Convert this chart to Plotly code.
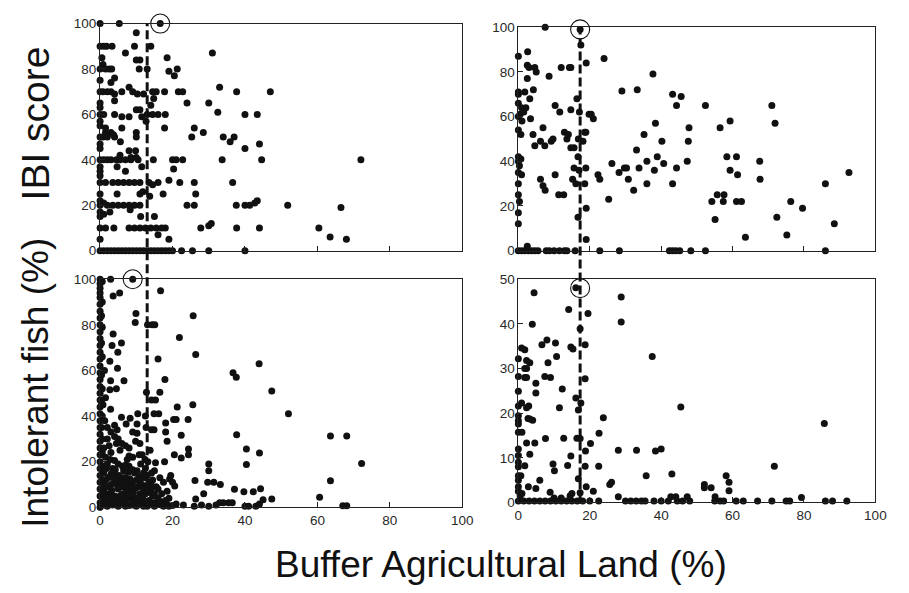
import plotly.graph_objects as go

# ---------------- data ----------------
# Top-left: IBI score vs buffer agricultural land (%)
tl_points = [
    (0,100),(5.3,100),(16.6,100),(10,96),
    (0,90),(1,90),(1.8,90),(3.3,90),(9.5,90),(14,90),(7,87),(31,87),
    (0.5,85),(10,84),(11,84),(18.5,85),
    (0,80),(0.8,82),(1.5,80),(2.5,80),(3.2,80),(10.8,80),(13,80),(19,79),(21.3,80),(20.5,77),
    (0,75),(3,74),(4,76),(8,72),(33,72),
    (0,70),(0.8,70),(2,70),(3,70),(4,69),(6,70),(9,70),(10.3,69),(12,69),(14.5,70),(15.5,70),
    (17.8,70),(21.6,70),(22.8,70),(37.7,70),(47,70),
    (4,66),(14.8,67),(0,65),(0,63),(14,64),(24,65),(30,65),(10,62),(11,62),
    (0,60),(1,60),(4,60),(6,59),(8,59),(11.5,59),(13,60),(14.5,60),(16,60),(18,60),(32.5,61),
    (40,60),(43.4,60),(12.7,57),(0,57),
    (0,55),(1.5,54),(6,54),(17.8,54),(26,54),(1.5,52),(3,52),(3.7,51),(10,52),(28.5,52),
    (0,50),(0.8,50),(2,50),(4,50),(10,50),(25.3,50),(34,50),(37,50),
    (5.6,48),(35.9,48),(44,47),(0,45),(40,45),(0,47),(8,44),(9.8,44),(5.5,42),(8.5,41),(10,41),
    (0,40),(1,40),(2,40),(3,40),(4.5,40),(5.5,40),(7,40),(8.5,40),(10.5,40),(14.7,40),(20,40),
    (21,40),(22.8,40),(33.7,40),(44.6,40),(72,40),
    (4.7,37),(11.5,37),(20.3,36),(0,37),(0,35),(7,35),(19,31),(0,33),
    (0,30),(1.5,30),(3.5,30),(5,30),(6.5,30),(8,30),(9.5,30),(11,30),(13.5,30),(14.5,29),(16,30),
    (22,30),(26,30),(36.6,30),
    (0,25),(4.7,25),(11,25),(11.8,26),(13.7,24),(17.4,25),(26.4,25),(43.4,22),(0,22),
    (0,20),(1,21),(2,20),(3.5,20),(5,20),(6.5,20),(8,20),(9.5,20),(11,20),(24,20),(26,20),
    (37.6,20),(40,20),(41.3,20),(42.7,21),(51.8,20),(66.5,19),
    (2.7,17),(8.3,18),(0,17),(0,15),(1,16),(11.2,15),(15,15),
    (0,10),(1.5,10),(3.8,10),(8,10),(9.5,10),(11,10),(12.5,10),(14,10),(15.5,10),(17,10),(18,10),
    (27.8,10),(30,11),(30.7,12),(37.7,10),(44,10),(60.4,10),
    (16,7),(63.5,6),(0,5),(19,5),(68,5),
    (0,0),(1,0),(2,0),(3,0),(4,0),(5,0),(6,0),(7,0),(8,0),(9,0),(10,0),(11,0),(12,0),(13,0),
    (14,0),(15,0),(16,0),(17,0),(18,0),(19,0),(20,0),(22.5,0),(25.5,0),(30,0),(40,0),
]

# Top-right: IBI score vs buffer agricultural land (%)
tr_points = [
    (0,87),(2.6,89),(7.5,100),(17.3,99),(17.5,92),(24,86),(19,84),
    (2.5,83),(3,82),(4.6,82),(5,80),(8.6,78),(12,82),(14.3,82),(14.7,82),(37.7,79),(2.5,77),
    (0,71),(0,70),(1.8,71),(4.2,72),(3.2,68),(29,71.5),(33.3,72),(43.2,70),(45.6,69),
    (52.4,65),(44.3,65),(71,65),(0,66),(0.9,64),(2.1,64),(1.5,62),(0.5,61),(0,60),(1,58),
    (10.3,65),(11.6,62),(14.7,63),(16.4,68),(17.1,62),(19.8,61),(20.4,61),(21,59),(3.4,59),
    (0,54),(0.7,52),(4.1,52),(6.9,55),(4.6,47),(6.2,49),(7.4,47),(9.2,49),(9.7,50),
    (12.9,53),(14,52),(13.6,50),(14.7,46),(15.6,46),(16.8,50),(18.1,49),(18.9,53),(18.6,53),
    (38.4,57),(35.2,52),(47.8,55),(47.6,49),(40.2,49),(56.5,55),(59.3,58),(71.9,57),
    (0,42),(0,40),(0.3,38),(0,35),(0.7,41),(0.9,34),
    (33.1,45),(26.2,39),(36,40),(38.9,42),(40.7,39),(38.1,36),(47.3,40),
    (33.8,37),(29.7,37),(30.3,37),(28.2,35),(30.8,32),(32.3,27),(36,30),(43.2,30),(44.3,37),
    (58.4,42),(61.1,42),(59.3,36),(61.4,34),(67.6,40),(67.7,32),(92.6,35),
    (6.2,32),(6.9,29),(7.5,27),(10.3,34),(11.3,25),(12.7,25),
    (15.2,32),(15.6,37),(16.1,30),(17,36),(18.6,30),(18.9,37),(22.3,34),(22.8,32),
    (16.7,42),(25.3,23),(16.7,15),(19,19),
    (54.2,22),(55.7,25),(57.6,25),(57.4,22),(55.1,14),(61.1,22),(62.5,22),(63.6,6),
    (72.4,15),(75.2,7),(76.3,22),(79.6,19),(86,30),(88.5,12),
    (0,30),(0,25),(0.3,22),(0,17),(0,12),(19,5),
    (0,0),(0.9,0),(1.8,0),(2.8,0),(3.7,0),(4.6,0),(5.5,0),(2.5,2),(7.8,0),(8.7,0),(10,0),
    (11.5,0),(12.9,0),(13.6,0),(15.9,0),(22.8,0),(28.3,0),(42.3,0),(43.2,0),(44.1,0),(45.2,0),
    (48.3,0),(52.4,0),(86,0),
]

# Bottom-left: intolerant fish (%) vs buffer agricultural land (%)
bl_points = [
    (0,100),(0,98),(0,96),(0,94),(0,92),(0,89),(0,86),(0,83),(0,80),(0,77),(0,74),(0,71),
    (0,68),(0,65),(0,62),(0,59),(0,56),(0,53),(0,50),(0,47),(0,44),(0,41),(0,38),(0,35),
    (0,32),(0,29),(0,26),(0,23),(0,20),(0,17),(0,14),(0,11),(0,8),(0,5),(0,2),(0,0),
    (0.6,99),(0.6,90),(0.6,79),(0.6,66),(0.6,52),(0.6,40),(0.6,30),(0.6,24),(0.6,18),
    (0.4,84),(0.4,72),(0.4,58),(0.4,46),(0.4,35),(0.8,12),(0.8,6),(0.8,2),
    (2.9,100),(9,100),(3.6,92.6),(5.4,94),(16.7,95),(9.9,85),(9.7,81),
    (13.1,80),(14.4,80),(15.1,80),(25.7,84),(21.9,74.5),
    (3.6,76),(3.3,71),(5.9,72),(4.9,68),(26.4,67),(16,65),(2.7,64),(4.8,61),
    (2.9,55.5),(2.7,51.5),(6.6,55.5),(4.5,52),(17.9,56),(36.7,59),(37.6,57),(43.9,63),
    (47.4,51),(52,41),(2.9,43),(12.8,50.5),(14.2,47),(15.3,47),(16.5,50.5),
    (5.9,39.5),(8.3,39),(7.2,36.5),(10.4,41),(10.2,36.5),(10.2,32.5),(12.5,40),(12.7,35),
    (14.9,34),(14.2,34),(14.9,41),(16.2,41),(18.1,37),(20.3,38.5),(21,38.5),(21.3,44),
    (24.3,38.5),(25.6,45),(18.1,33),(18.5,29),(22.4,31.6),(37.7,31.8),
    (4,36),(4.7,34),(4,31),(4.5,28),(9.8,29),(13.8,25),(12.4,21),(10.8,23),(11.6,23),
    (20.5,23),(22.4,21.6),(24.4,25.6),(24.4,23),(17.8,20),(15.3,19.5),
    (40.4,25.6),(40.4,18.8),(44,23.8),(63.6,31.3),(68.1,31.3),(72.2,19.2),(63.6,11.7),
    (60.6,4.4),(67,0.7),(68.1,0.7),
    (26.2,11.8),(29.7,11),(31.4,11),(33.2,10),(30,19),(30,16),(19.2,12.4),(20.6,9.3),
    (39.7,6.8),(42.3,6.8),(44.3,8.1),(37.1,7.9),(45,3.3),(47.4,3.6),(28.6,6),
    (34,2),(35.5,2),(36.5,2),(26.4,3.6),
    (0.5,18),(1,15),(1.5,12),(2,9),(2.5,6),(3,3),(1,1),(2,0.5),(3.5,17),(4,14),(4.5,11),
    (5,8),(5.5,5),(6,2),(6.5,16),(7,13),(7.5,10),(8,7),(8.5,4),(9,1),(9.5,15),(10,12),
    (10.5,9),(11,6),(11.5,3),(12,0.5),(12.5,17),(13,14),(13.5,11),(14,8),(14.5,5),(15,2),
    (16,4),(17,1),(18,3),(19,0.5),(2,19),(5,19),(8,18),(1,7),(4,5),(7,3),(3,10),(6,9),
    (1.5,22),(3,24),(5.5,25),(7.5,21),(9,22),(2.5,27),(6,28),(8,26),(1,4),(3.5,1),(5,0.5),
    (7,0.5),(8,0.8),(10,0.5),(11,1.5),(13,0.5),(14,2),(15,0.5),(16,1.5),(17.5,0.5),(18.5,1.2),
    (20,0.8),(21,1.5),(23,1),(26,0.5),(28,1),(30,0.5),(32,1),(33,2),(40,0.5),(41,0.5),
    (43,0.5),(44,1.5),(16.5,13),(15,16),(17,6),(19,4),(20,11),(12,8),(9,11),(6.5,6),
    # dense cloud near the origin
    (1.5,3),(2.5,1.5),(3.5,5),(4.5,2.5),(5.5,11.5),(6.5,13),(7.5,5.5),(8.5,9),(9.5,3.5),
    (10.5,2),(11.5,10),(12.5,6),(13.5,3),(14.5,12),(15.5,9),(16.5,2.5),(1.2,9.5),(2.2,13),
    (3.2,7.5),(4.2,16.5),(5.2,14),(6.2,18),(7.2,8),(8.2,12.5),(9.2,6.5),(10.2,16),(11.2,19),
    (12.2,13),(13.2,20),(14.2,15),(1.8,17),(2.8,21),(3.8,12.5),(4.8,9.5),(5.8,3.5),(6.8,10.5),
    (7.8,15.5),(8.8,2),(9.8,8.5),(10.8,13.5),(11.8,4.5),(12.8,9.5),(13.8,6.5),(14.8,1),
    (2,4.5),(3,14.5),(4,20.5),(5,12),(6,5.5),(7,18.5),(8,22.5),(9,16.5),(10,4),(11,11),
    (12,15),(13,2.5),(14,10),(15,6),(16,8),(17.5,11),(18.5,7),(19.5,14),(1,26),(2,30),
    (3,33),(5,30),(7,27),(9,33),(11,28),(0.8,45),(1.3,38),(1.2,60),(1.5,48),(2,35),
]

# Bottom-right: intolerant fish (%) vs buffer agricultural land (%)
br_points = [
    (16.1,48.1),(4.4,47),(28.8,46),(14.1,43.2),(19.5,42.3),(28.8,40.4),(3.9,39.9),(17.3,38.9),
    (0,32.2),(0.9,34.6),(1.8,34.2),(2.3,31.8),(3.2,31.3),(1.8,30),(2.3,30),
    (0,28.2),(1.8,28),(2.3,28),(0,24.9),(0,21.6),(0,19.4),(0,18.3),(0,17.6),(0,15.7),
    (0.9,22.3),(2.3,21.2),(2.9,21.6),(2.7,18.8),(3.2,18.7),(4,18.4),(1,15.7),
    (4.6,13.3),(2.3,13.3),(3.2,10.8),(1.8,8.2),(4.9,26.7),(4.9,24.5),
    (6.6,35.3),(8,36.4),(7.4,28.2),(9,28),(8.3,31.3),(10.4,35.7),(10.7,32.7),
    (12.3,25.4),(11.5,21.2),(12.7,14.4),(7.6,14.3),(14.7,34.8),(15.3,34.4),
    (16.1,23.4),(16.8,20.7),(17.5,22.3),(18.7,35.3),(18.7,27.7),(16.4,14.4),(17.3,14.3),
    (18.8,11.5),(20.2,13.2),(22.6,15.5),(23.8,19),(14.7,10.4),(13.8,8.3),(18.7,8.1),
    (22.5,8.1),(9.7,8.6),(10.1,7.1),(8.9,2.3),(6,5),(16.8,5.3),(4.9,3.1),(2.8,3.5),
    (0,12),(0,10.5),(0,9),(0,8),(0,6),(0,5),(0,3.5),(0,2.5),(0.7,6),(1,2),(0.5,1.5),
    (25.6,4),(26.1,4.5),(33.1,11.7),(28,11.7),(38.4,11.5),(40,12),(35.8,6),(43,6.4),
    (37.5,32.7),(45.5,21.4),(52.1,3.3),(52.1,4),(54,3.3),(58.2,6),(59,4.5),(59,2.6),
    (55.1,1.3),(71.7,8.1),(85.7,17.7),(79.3,1.1),(28,1.3),(42.7,1.3),(47.3,1.3),(44.1,1.3),
    (17.3,2.2),(19,3.5),(14.5,1.5),(12,1),(21,2.5),(15,2),(10,1),
    (0,0.3),(1.5,0.3),(3,0.3),(4.5,0.3),(6,0.3),(7.5,0.3),(9,0.3),(10.5,0.3),(12,0.3),
    (13.5,0.3),(15,0.3),(16.5,0.3),(18,0.3),(20,0.3),(22.5,0.3),(30,0.3),(31.5,0.3),
    (33,0.3),(34.5,0.3),(35.5,0.3),(38,0.3),(40,0.3),(42,0.3),(44.5,0.3),(46,0.3),(48,0.3),
    (55,0.3),(56.5,0.3),(57.5,0.3),(61,0.3),(63,0.3),(67,0.3),(71,0.3),(75,0.3),(76,0.3),
    (86,0.3),(88,0.3),(92,0.3),
]

# reference thresholds (dashed lines) and circled points
left_threshold = 13.0
right_threshold = 17.3
circle_x = [16.6, 17.3, 9.0, 17.3]
circle_y = [100, 99, 100, 48]

x_ticks = [0, 20, 40, 60, 80, 100]
y_ticks_100 = [0, 20, 40, 60, 80, 100]
y_ticks_50 = [0, 10, 20, 30, 40, 50]

# ---------------- figure ----------------
W, H = 909, 593
def px(x):
    return x / W
def py(y):
    return 1 - y / H

fig = go.Figure()

axis_pairs = [("x", "y"), ("x2", "y2"), ("x3", "y3"), ("x4", "y4")]
for (xa, ya), pts in zip(axis_pairs, [tl_points, tr_points, bl_points, br_points]):
    fig.add_trace(go.Scatter(
        x=[p[0] for p in pts], y=[p[1] for p in pts], xaxis=xa, yaxis=ya, mode="markers",
        marker=dict(size=7, color="#111111", line=dict(width=0)),
        cliponaxis=False, showlegend=False, hoverinfo="skip",
    ))

# open circles highlighting one point per panel
for i, (xa, ya) in enumerate(axis_pairs):
    fig.add_trace(go.Scatter(
        x=[circle_x[i]], y=[circle_y[i]], xaxis=xa, yaxis=ya, mode="markers",
        marker=dict(size=19, symbol="circle-open", color="#111111", line=dict(width=1.1)),
        cliponaxis=False, showlegend=False, hoverinfo="skip",
    ))

tickfont = dict(family="Liberation Sans, Arial, sans-serif", size=13.5, color="#2a2a2a")
axis_common = dict(
    showline=True, linecolor="#222222", linewidth=1, mirror=True,
    ticks="inside", ticklen=5, tickcolor="#222222", showgrid=False, zeroline=False,
    tickfont=tickfont, fixedrange=True,
)

dom_x_left = [px(97.7), px(466)]
dom_x_right = [px(523), px(886)]

fig.update_layout(
    width=W, height=H, margin=dict(l=0, r=0, t=0, b=0),
    paper_bgcolor="white", plot_bgcolor="white",
    xaxis=dict(domain=dom_x_left, range=[0, 100], tickvals=x_ticks, showticklabels=False,
               anchor="y", **axis_common),
    yaxis=dict(domain=[py(250), py(17)], range=[0, 100], tickvals=y_ticks_100,
               anchor="x", **axis_common),
    xaxis2=dict(domain=dom_x_right, range=[0, 100], tickvals=x_ticks, showticklabels=False,
                anchor="y2", **axis_common),
    yaxis2=dict(domain=[py(250), py(20.7)], range=[0, 100], tickvals=y_ticks_100,
                anchor="x2", **axis_common),
    xaxis3=dict(domain=dom_x_left, range=[0, 100], tickvals=x_ticks,
                anchor="y3", **axis_common),
    yaxis3=dict(domain=[py(513.3), py(279.3)], range=[0, 100], tickvals=y_ticks_100,
                anchor="x3", **axis_common),
    xaxis4=dict(domain=dom_x_right, range=[0, 100], tickvals=x_ticks,
                anchor="y4", **axis_common),
    yaxis4=dict(domain=[py(508.3), py(279.3)], range=[0, 50], tickvals=y_ticks_50,
                anchor="x4", **axis_common),
)

# dashed threshold lines spanning both rows
dash_line = dict(color="#111111", width=3, dash="9px,4px")
fig.add_shape(type="line", xref="x", yref="paper", x0=left_threshold, x1=left_threshold,
              y0=py(513.3), y1=py(17), line=dash_line, layer="above")
fig.add_shape(type="line", xref="x2", yref="paper", x0=right_threshold, x1=right_threshold,
              y0=py(508.3), y1=py(26), line=dash_line, layer="above")

fig.add_annotation(text="IBI score", xref="paper", yref="paper", x=px(33), y=py(119),
                   textangle=-90, showarrow=False,
                   font=dict(family="Liberation Sans, Arial, sans-serif", size=39, color="#111111"),
                   xanchor="center", yanchor="middle")
fig.add_annotation(text="Intolerant fish (%)", xref="paper", yref="paper", x=px(32), y=py(385),
                   textangle=-90, showarrow=False,
                   font=dict(family="Liberation Sans, Arial, sans-serif", size=37, color="#111111"),
                   xanchor="center", yanchor="middle")
fig.add_annotation(text="Buffer Agricultural Land (%)", xref="paper", yref="paper", x=px(505), y=py(572),
                   showarrow=False,
                   font=dict(family="Liberation Sans, Arial, sans-serif", size=37, color="#111111"),
                   xanchor="center", yanchor="middle")

fig.write_html("out.html")
